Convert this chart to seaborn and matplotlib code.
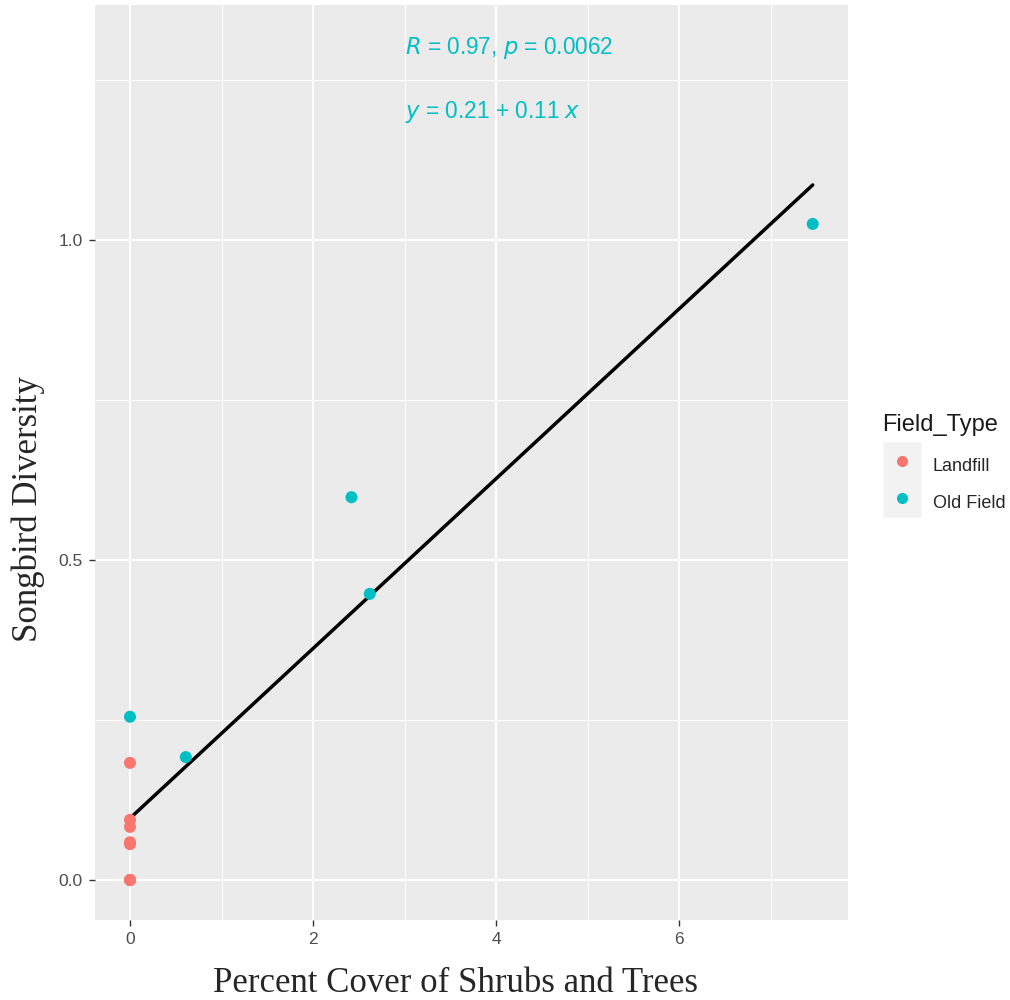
import pandas as pd
import matplotlib.pyplot as plt
import seaborn as sns
from matplotlib.lines import Line2D

# data (some landfill points overlap at 0,0)
landfill_cover = [0, 0, 0, 0, 0, 0, 0, 0]
landfill_div = [0.183, 0.094, 0.083, 0.059, 0.056, 0.0, 0.0, 0.0]
oldfield_cover = [0, 0.61, 2.42, 2.62, 7.46]
oldfield_div = [0.255, 0.192, 0.598, 0.447, 1.025]
field_types = ["Landfill", "Old Field"]
palette = {"Landfill": "#F8766D", "Old Field": "#00BFC4"}

df = pd.DataFrame({
    "cover": landfill_cover + oldfield_cover,
    "diversity": landfill_div + oldfield_div,
    "Field_Type": ["Landfill"] * len(landfill_cover) + ["Old Field"] * len(oldfield_cover),
})

sns.set_theme(style="darkgrid", rc={"axes.facecolor": "#EBEBEB", "grid.color": "white"})
plt.rcParams['font.family'] = ['Liberation Sans', 'DejaVu Sans']

fig = plt.figure(figsize=(10.1, 10), dpi=100)
ax = fig.add_axes([0.094, 0.08, 0.746, 0.915])

sns.scatterplot(data=df, x="cover", y="diversity", hue="Field_Type", palette=palette,
                s=75, edgecolor="none", legend=False, ax=ax, zorder=3)
sns.regplot(data=df, x="cover", y="diversity", scatter=False, ci=None,
            color="black", line_kws={"linewidth": 2.5}, ax=ax)

ax.set_xlim(-0.383, 7.85)
ax.set_ylim(-0.0625, 1.367)
ax.set_xticks([0, 2, 4, 6])
ax.set_yticks([0.0, 0.5, 1.0])
ax.set_yticklabels(["0.0", "0.5", "1.0"])
ax.set_xticks([1, 3, 5, 7], minor=True)
ax.set_yticks([0.25, 0.75, 1.25], minor=True)
ax.grid(which="major", color="white", linewidth=1.4)
ax.grid(which="minor", color="white", linewidth=0.7)
ax.tick_params(which="major", length=4, width=1, color="#333333",
               labelsize=12.5, labelcolor="#4D4D4D", pad=5)
ax.tick_params(which="minor", length=0)
ax.tick_params(axis="both", which="major", bottom=True, left=True)
for s in ax.spines.values():
    s.set_visible(False)

ax.set_xlabel("Percent Cover of Shrubs and Trees", family="Liberation Serif", fontsize=25)
ax.set_ylabel("Songbird Diversity", family="Liberation Serif", fontsize=25)
ax.xaxis.set_label_coords(0.479, -0.051)
ax.yaxis.set_label_coords(-0.066, 0.449)

ax.text(3.0, 1.30, r"$\it{R}$ = 0.97, $\it{p}$ = 0.0062", color="#00BFC4",
        fontsize=16.3, va="center", ha="left")
ax.text(3.0, 1.20, r"$\it{y}$ = 0.21 + 0.11 $\it{x}$", color="#00BFC4",
        fontsize=16.3, va="center", ha="left")

# legend: title as separate text, keys drawn on grey squares like ggplot
fig.text(0.873, 0.575, "Field_Type", fontsize=17, color="#1A1A1A", va="center", ha="left")
handles = [(Line2D([0], [0], marker="s", linestyle="none", markersize=27.5,
                   markerfacecolor="#F2F2F2", markeredgecolor="none"),
            Line2D([0], [0], marker="o", linestyle="none", markersize=8,
                   markerfacecolor=palette[t], markeredgecolor="none")) for t in field_types]
leg = fig.legend(handles, field_types, loc="center left",
                 bbox_to_anchor=(0.859, 0.5165), frameon=False, fontsize=13,
                 handletextpad=0.66, labelspacing=0.48,
                 handlelength=2.04, handleheight=2.04)

plt.savefig("out.png", dpi=100)
